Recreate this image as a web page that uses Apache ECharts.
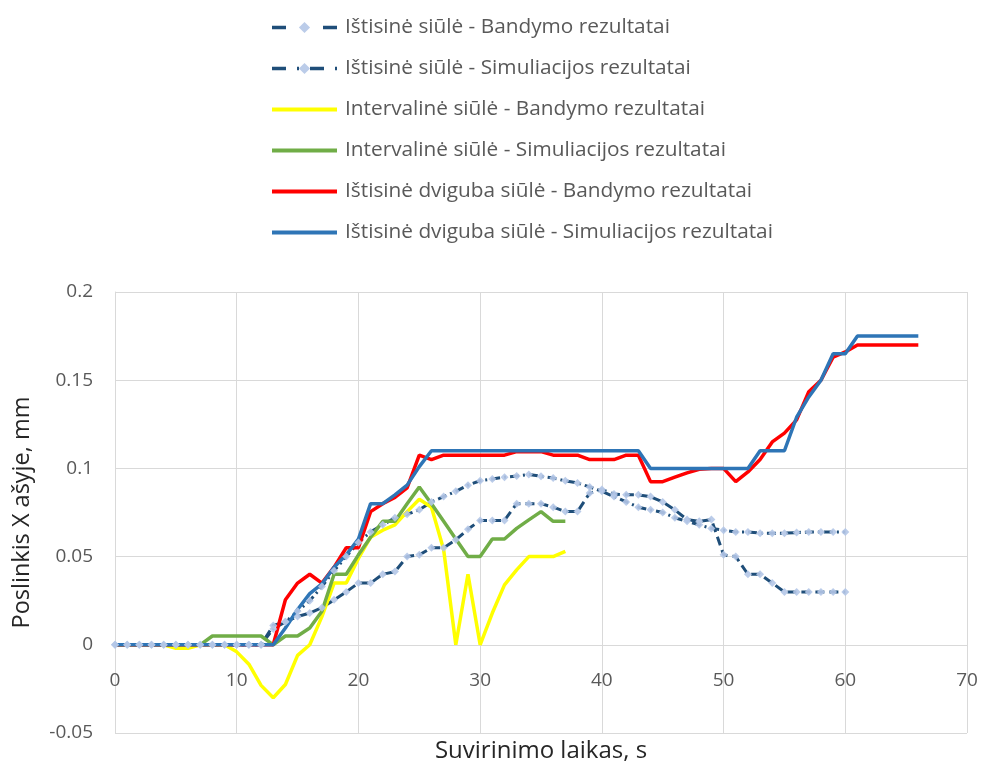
<!DOCTYPE html>
<html>
<head>
<meta charset="utf-8">
<title>Poslinkis X ašyje</title>
<script src="https://cdn.jsdelivr.net/npm/echarts@6/dist/echarts.min.js"></script>
<style>
  html, body { margin: 0; padding: 0; background: #ffffff; }
  #chart { width: 985px; height: 771px; }
</style>
</head>
<body>
<div id="chart"></div>
<script>
// Displacement along X (mm) sampled every second of welding, index = seconds
const seriesNames = [
  'Ištisinė siūlė - Bandymo rezultatai',
  'Ištisinė siūlė - Simuliacijos rezultatai',
  'Intervalinė siūlė - Bandymo rezultatai',
  'Intervalinė siūlė - Simuliacijos rezultatai',
  'Ištisinė dviguba siūlė - Bandymo rezultatai',
  'Ištisinė dviguba siūlė - Simuliacijos rezultatai'
];

const continuousTest = [
  0, 0, 0, 0, 0, 0, 0, 0, 0, 0, 0, 0, 0,
  0.011, 0.013, 0.016, 0.018, 0.021, 0.0255, 0.030, 0.035, 0.035, 0.040,
  0.0415, 0.050, 0.051, 0.055, 0.055, 0.0595, 0.0655, 0.0705, 0.0705, 0.0705,
  0.080, 0.080, 0.080, 0.078, 0.0755, 0.0755, 0.086, 0.088, 0.0855, 0.085,
  0.085, 0.084, 0.081, 0.0765, 0.071, 0.070, 0.071, 0.051, 0.050, 0.040,
  0.040, 0.035, 0.030, 0.030, 0.030, 0.030, 0.030, 0.030
];

const continuousSim = [
  0, 0, 0, 0, 0, 0, 0, 0, 0, 0, 0, 0, 0,
  0.009, 0.013, 0.019, 0.025, 0.033, 0.042, 0.050, 0.058, 0.064, 0.068,
  0.072, 0.074, 0.0765, 0.081, 0.084, 0.087, 0.0905, 0.093, 0.094, 0.095,
  0.0957, 0.0966, 0.0955, 0.0945, 0.093, 0.0917, 0.0895, 0.087, 0.084, 0.081,
  0.078, 0.0765, 0.075, 0.072, 0.070, 0.068, 0.066, 0.065, 0.064, 0.064,
  0.0633, 0.0633, 0.0633, 0.0636, 0.064, 0.064, 0.064, 0.064
];

const intervalTest = [
  0, 0, 0, 0, 0, -0.002, -0.002, 0, 0, 0,
  -0.004, -0.011, -0.023, -0.030, -0.0225, -0.006, 0, 0.016, 0.035, 0.035,
  0.049, 0.061, 0.065, 0.068, 0.0755, 0.0825, 0.078, 0.054, 0, 0.040,
  0, 0.018, 0.034, 0.0425, 0.050, 0.050, 0.050, 0.053
];

const intervalSim = [
  0, 0, 0, 0, 0, 0, 0, 0,
  0.005, 0.005, 0.005, 0.005, 0.005,
  0,
  0.005, 0.005, 0.0095, 0.019, 0.040, 0.040, 0.051, 0.061, 0.070, 0.070,
  0.080, 0.0895, 0.080, 0.070, 0.060, 0.050, 0.050, 0.060, 0.060, 0.066,
  0.0708, 0.0755, 0.070, 0.070
];

const doubleTest = [
  0, 0, 0, 0, 0, 0, 0, 0, 0, 0, 0, 0, 0, 0,
  0.0255, 0.035, 0.040, 0.035, 0.044, 0.055, 0.055, 0.0755, 0.080, 0.0835,
  0.089, 0.1075, 0.105, 0.1075, 0.1075, 0.1075, 0.1075, 0.1075, 0.1075, 0.1095,
  0.1095, 0.1095, 0.1075, 0.1075, 0.1075, 0.105, 0.105, 0.105, 0.1075, 0.1075,
  0.0925, 0.0925, 0.095, 0.0975, 0.0995, 0.100, 0.100, 0.0925, 0.098, 0.105,
  0.115, 0.120, 0.1275, 0.1435, 0.150, 0.163, 0.166, 0.170, 0.170, 0.170,
  0.170, 0.170, 0.170
];

const doubleSim = [
  0, 0, 0, 0, 0, 0, 0, 0, 0, 0, 0, 0, 0, 0,
  0.0095, 0.020, 0.029, 0.0345, 0.044, 0.051, 0.060, 0.080, 0.080, 0.085,
  0.0905, 0.101, 0.110, 0.110, 0.110, 0.110, 0.110, 0.110, 0.110, 0.110,
  0.110, 0.110, 0.110, 0.110, 0.110, 0.110, 0.110, 0.110, 0.110, 0.110,
  0.100, 0.100, 0.100, 0.100, 0.100, 0.100, 0.100, 0.100, 0.100, 0.110,
  0.110, 0.110, 0.129, 0.1405, 0.150, 0.165, 0.165, 0.175, 0.175, 0.175,
  0.175, 0.175, 0.175
];

const xTicks = { min: 0, max: 70, step: 10 };
const yTicks = { min: -0.05, max: 0.2, step: 0.05 };

const textGray = '#595959';
const titleColor = '#262626';
const gridGray = '#d9d9d9';
const fontFamily = '"Open Sans", "Noto Sans", sans-serif';

// plot box; the second grid ends at the zero line so its x labels sit there
const plot = { left: 115, right: 18, top: 292, bottom: 38 };
const zeroLineHeight = 353;

// dash patterns: in the plot, and stretched for the legend swatch
const testDash = [9, 5];
const simDash = [9, 4, 2, 4];
const testLegendDash = [14, 37];
const simLegendDash = [14, 11, 2, 11];

// pair each reading with its second
function toPoints(values) {
  return values.map((v, sec) => [sec, v]);
}

function solidSeries(name, values, color) {
  return {
    name: name,
    type: 'line',
    data: toPoints(values),
    symbol: 'none',
    lineStyle: { color: color, width: 3.5 },
    itemStyle: { color: color },
    emphasis: { disabled: true }
  };
}

function markedSeries(name, values, dash) {
  return {
    name: name,
    type: 'line',
    data: toPoints(values),
    symbol: 'diamond',
    symbolSize: 8,
    showSymbol: true,
    lineStyle: { color: '#1f4e79', width: 3, type: dash },
    itemStyle: { color: '#b4c7e7', opacity: 0.9 },
    emphasis: { disabled: true }
  };
}

const legendItems = [
  { name: seriesNames[0], lineStyle: { width: 3.5, type: testLegendDash } },
  { name: seriesNames[1], lineStyle: { width: 3.5, type: simLegendDash } },
  { name: seriesNames[2], itemStyle: { opacity: 0 }, lineStyle: { width: 4 } },
  { name: seriesNames[3], itemStyle: { opacity: 0 }, lineStyle: { width: 4 } },
  { name: seriesNames[4], itemStyle: { opacity: 0 }, lineStyle: { width: 4 } },
  { name: seriesNames[5], itemStyle: { opacity: 0 }, lineStyle: { width: 4 } }
];

const chart = echarts.init(document.getElementById('chart'), null, { renderer: 'canvas' });

chart.setOption({
  animation: false,
  backgroundColor: '#ffffff',
  textStyle: { fontFamily: fontFamily },
  title: {
    text: 'Suvirinimo laikas, s',
    left: 541,
    top: 739,
    padding: 0,
    textAlign: 'center',
    textStyle: { color: titleColor, fontSize: 24, fontWeight: 'normal', fontFamily: fontFamily }
  },
  legend: {
    orient: 'vertical',
    left: 265,
    top: 12,
    itemWidth: 65,
    itemHeight: 14,
    itemGap: 20,
    selectedMode: false,
    textStyle: { color: textGray, fontSize: 20.8, fontFamily: fontFamily, padding: [0, 0, 0, 3] },
    data: legendItems
  },
  grid: [
    { left: plot.left, right: plot.right, top: plot.top, bottom: plot.bottom, containLabel: false },
    { left: plot.left, right: plot.right, top: plot.top, height: zeroLineHeight, containLabel: false }
  ],
  xAxis: [
    {
      type: 'value',
      gridIndex: 0,
      min: xTicks.min,
      max: xTicks.max,
      interval: xTicks.step,
      axisLine: { show: false },
      axisTick: { show: false },
      axisLabel: { show: false },
      splitLine: { show: true, lineStyle: { color: gridGray, width: 1 } }
    },
    {
      type: 'value',
      gridIndex: 1,
      min: xTicks.min,
      max: xTicks.max,
      interval: xTicks.step,
      axisLine: { show: false },
      axisTick: { show: false },
      axisLabel: { color: textGray, fontSize: 19, margin: 26, fontFamily: fontFamily },
      splitLine: { show: false }
    }
  ],
  yAxis: [
    {
      type: 'value',
      gridIndex: 0,
      min: yTicks.min,
      max: yTicks.max,
      interval: yTicks.step,
      name: 'Poslinkis X ašyje, mm',
      nameLocation: 'middle',
      nameRotate: 90,
      nameGap: 81,
      nameTextStyle: { color: titleColor, fontSize: 23.5, fontFamily: fontFamily },
      axisLine: { show: true, onZero: false, lineStyle: { color: gridGray, width: 1 } },
      axisTick: { show: false },
      axisLabel: { color: textGray, fontSize: 19, margin: 22, fontFamily: fontFamily },
      splitLine: { show: true, lineStyle: { color: gridGray, width: 1 } }
    },
    {
      type: 'value',
      gridIndex: 1,
      min: 0,
      max: 1,
      show: false
    }
  ],
  series: [
    markedSeries(seriesNames[0], continuousTest, testDash),
    markedSeries(seriesNames[1], continuousSim, simDash),
    solidSeries(seriesNames[2], intervalTest, '#ffff00'),
    solidSeries(seriesNames[3], intervalSim, '#70ad47'),
    solidSeries(seriesNames[4], doubleTest, '#ff0000'),
    solidSeries(seriesNames[5], doubleSim, '#2e75b6')
  ]
});
</script>
</body>
</html>
